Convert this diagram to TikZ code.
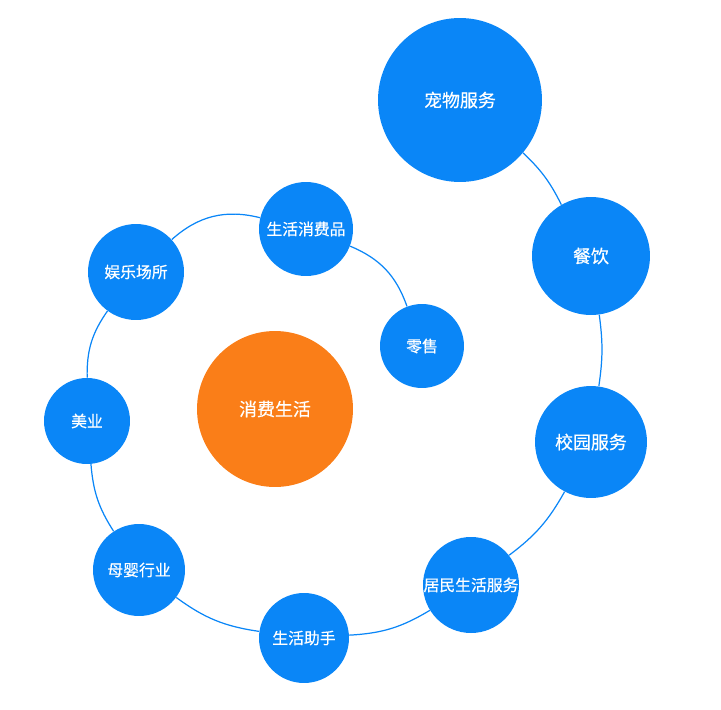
\documentclass[tikz,border=0pt]{standalone}
\usepackage{fontspec}
\setmainfont{Noto Sans CJK SC}
\newfontfamily\medfont[FakeBold=0.5]{Noto Sans CJK SC}
\definecolor{bblue}{HTML}{0A86F7}
\definecolor{borange}{HTML}{FA7E18}

\begin{document}
\begin{tikzpicture}[x=0.02cm, y=-0.02cm,
  bubble/.style={circle, fill=bblue, text=white, inner sep=0pt,
                 font=\medfont\fontsize{9}{9}\selectfont},
  big/.style={font=\medfont\fontsize{10.2}{10}\selectfont},
  link/.style={draw=bblue, line width=0.7pt}
]
  \useasboundingbox (0,0) rectangle (721,710);

  % centre
  \node[bubble, big, fill=borange, minimum size=3.12cm] (core) at (275,409) {消费生活};

  % inner ring
  \node[bubble, minimum size=1.68cm] (retail) at (422,346) {零售};
  \node[bubble, minimum size=1.88cm] (goods) at (306,229) {生活消费品};
  \node[bubble, minimum size=1.92cm] (fun) at (136,272) {娱乐场所};
  \node[bubble, minimum size=1.72cm] (beauty) at (87,421) {美业};
  \node[bubble, minimum size=1.84cm] (baby) at (139,570) {母婴行业};
  \node[bubble, minimum size=1.80cm] (helper) at (304,638) {生活助手};

  % outer ring
  \node[bubble, minimum size=1.92cm] (resident) at (471,585) {居民生活服务};
  \node[bubble, big, minimum size=2.24cm] (campus) at (591,442) {校园服务};
  \node[bubble, big, minimum size=2.36cm] (food) at (591,256) {餐饮};
  \node[bubble, big, minimum size=3.28cm] (pet) at (460,100) {宠物服务};

  % spiral
  \draw[link] (retail) to[bend right=24] (goods);
  \draw[link] (goods) to[bend right=28] (fun);
  \draw[link] (fun) to[bend right=18] (beauty);
  \draw[link] (beauty) to[bend right=14] (baby);
  \draw[link] (baby) to[bend right=14] (helper);
  \draw[link] (helper) to[bend right=14] (resident);
  \draw[link] (resident) to[bend right=12] (campus);
  \draw[link] (campus) to[bend right=8] (food);
  \draw[link] (food) to[bend right=10] (pet);
\end{tikzpicture}
\end{document}
